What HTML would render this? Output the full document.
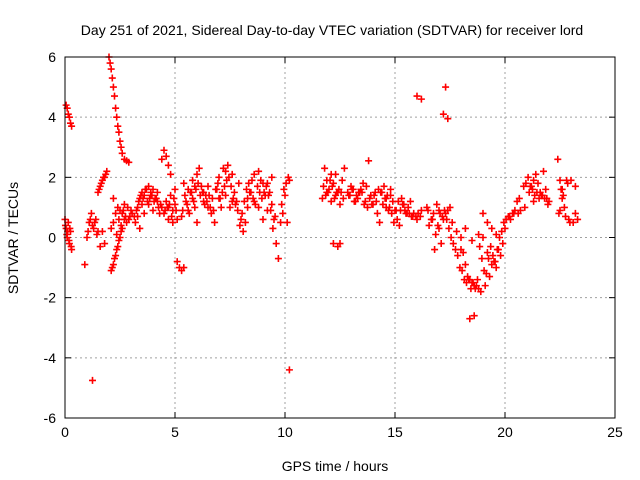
<!DOCTYPE html>
<html><head><meta charset="utf-8"><style>
body{margin:0;background:#fff;}
svg{display:block;font-family:"Liberation Sans",sans-serif;}
</style></head><body>
<svg id="chart" width="640" height="480">
<rect width="640" height="480" fill="#fff"/>
<text x="332" y="35" font-size="14" text-anchor="middle">Day 251 of 2021, Sidereal Day-to-day VTEC variation (SDTVAR) for receiver lord</text>
<text x="335" y="471" font-size="14" text-anchor="middle">GPS time / hours</text>
<text transform="translate(18,238) rotate(-90)" font-size="14" text-anchor="middle">SDTVAR / TECUs</text>
<g id="grid"></g><g id="ticks"></g><g id="marks"></g>
<rect x="65" y="57" width="550" height="361" fill="none" stroke="#000" stroke-width="1"/>
</svg>
<script>
const xTicks=[0,5,10,15,20,25];
const yTicks=[-6,-4,-2,0,2,4,6];
const times=[0,0.05,0.1,0.15,0.2,0.25,0.3,0.05,0.1,0.15,0.2,0.25,0.3,
0.9,1.0,1.1,1.2,1.3,1.4,1.5,1.5,1.6,1.7,1.8,1.9,1.6,1.7,1.8,
2.0,2.05,2.1,2.15,2.2,2.25,2.3,2.35,2.4,2.45,2.5,2.55,2.6,2.7,2.8,2.9,
2.1,2.15,2.2,2.25,2.3,2.35,2.4,2.45,2.5,2.55,2.6,2.7,2.8,2.2,2.3,2.4,2.5,2.6,2.7,2.9,3.0,2.1,2.2,
1.25,
3.2,3.3,3.4,3.5,3.6,3.7,3.8,3.9,4.0,4.2,3.4,3.6,3.8,4.0,4.2,4.4,4.5,4.6,4.8,5.0,4.4,4.5,4.6,4.7,4.8,5.0,4.7,4.9,5.1,3.3,3.5,3.9,4.1,4.3,4.7,4.9,
5.1,5.2,5.3,5.4,
5.3,5.5,5.6,5.8,5.9,6.0,5.4,5.6,5.8,6.0,6.2,6.4,6.6,6.8,6.1,6.3,6.5,6.7,6.9,7.0,7.2,7.4,7.6,7.3,7.5,7.7,7.8,8.0,8.1,8.2,8.3,8.4,8.5,8.6,8.8,9.0,8.6,8.8,9.1,9.2,9.3,9.4,9.5,9.6,9.7,9.8,9.9,10.0,10.2,10.1,9.4,9.2,7.1,7.9,8.3,5.7,5.9,6.3,6.5,7.0,7.3,7.6,8.9,9.0,
10.2,
11.7,11.8,11.9,12.0,12.1,12.2,12.3,12.4,12.5,12.6,12.7,12.2,12.4,12.5,11.9,12.1,12.3,
12.9,13.1,13.3,13.5,13.7,13.9,13.8,14.0,14.2,14.4,14.5,14.6,14.7,14.8,14.3,14.1,14.9,15.0,15.1,15.2,15.3,15.4,15.6,15.8,16.0,16.2,15.5,15.7,13.0,13.2,13.4,13.6,14.6,14.8,
16.0,16.2,17.2,17.4,17.3,
16.5,16.7,16.9,17.0,17.1,17.2,17.4,17.6,17.8,16.8,17.0,17.3,17.5,
18.0,18.1,18.2,18.3,18.5,18.7,18.9,19.1,18.4,18.6,18.2,18.5,18.8,19.0,19.2,19.4,19.6,19.8,19.9,19.0,19.2,19.4,19.6,20.0,20.2,20.4,20.6,20.7,18.0,19.3,18.4,18.6,18.8,19.5,19.7,
20.9,21.1,21.3,21.4,21.5,21.6,21.8,22.0,21.3,21.7,21.2,21.9,
22.4,22.5,22.6,22.7,22.9,23.1,23.3,22.8,23.0,23.2,22.5,22.6,23.2,
0.02,0.08,0.12,0.18,0.22,0.28,1.05,1.15,1.25,1.35,1.45,1.55,1.65,1.75,1.85,2.35,2.45,2.55,2.65,2.75,2.85,2.95,3.05,3.15,3.25,3.35,3.45,3.55,3.65,3.75,3.85,3.95,4.05,4.15,4.25,4.35,4.55,4.65,4.75,4.85,4.95,5.05,5.35,5.45,5.55,5.65,5.75,5.85,5.95,6.05,6.15,6.25,6.35,6.45,6.55,6.65,6.75,6.85,6.95,7.05,7.15,7.25,7.35,7.45,7.55,7.65,7.75,7.85,7.95,8.05,8.15,8.25,8.35,8.45,8.55,8.65,8.75,8.85,8.95,9.05,9.15,9.25,9.35,9.45,9.55,9.85,9.95,10.05,10.15,
11.75,11.85,11.95,12.05,12.15,12.25,12.35,12.45,12.55,12.65,12.85,12.95,13.05,13.15,13.25,13.35,13.45,13.55,13.65,13.75,13.85,13.95,14.05,14.15,14.25,14.35,14.45,14.55,14.65,14.75,14.85,14.95,15.05,15.15,15.25,15.35,15.45,15.55,15.65,15.75,15.85,15.95,16.05,16.15,16.45,16.55,16.65,16.75,16.85,16.95,17.05,17.15,17.25,17.35,17.45,17.55,17.65,17.75,17.85,17.95,18.05,18.15,18.25,18.35,18.45,18.55,18.65,18.75,18.85,18.95,19.05,19.15,19.25,19.35,19.45,19.55,19.65,19.75,19.85,19.95,20.05,20.15,20.25,20.35,20.45,20.55,20.65,20.85,20.95,21.05,21.15,21.25,21.35,21.45,21.55,21.65,21.75,21.85,21.95,22.45,22.55,22.65,22.75,22.85,22.95,23.05,23.15,23.25];
const values=[0.6,0.3,0,0.5,-0.2,0.2,-0.4,4.4,4.3,4.1,4.0,3.8,3.7,
-0.9,0,0.5,0.8,0.3,0.6,0.2,1.5,1.7,1.9,2.0,2.2,-0.3,0.2,-0.2,
6.0,5.8,5.6,5.3,5.0,4.7,4.3,4.0,3.7,3.5,3.2,3.0,2.8,2.6,2.55,2.5,
-1.1,-1.0,-0.9,-0.7,-0.6,-0.4,-0.3,-0.1,0,0.2,0.3,0.6,0.5,0.5,0.8,1.0,0.9,0.8,1.1,0.6,0.9,0.3,1.3,
-4.75,
0.5,1.0,1.3,1.5,1.4,1.6,1.7,1.5,1.6,1.5,0.3,0.8,1.1,0.9,1.2,1.0,0.8,1.2,1.4,1.1,2.6,2.9,2.7,2.4,2.1,1.6,0.6,0.5,0.6,0.7,1.1,1.4,1.3,0.8,1.0,0.9,
-0.8,-1.0,-1.1,-1.0,
0.7,1.2,0.9,1.3,1.0,0.5,1.8,1.6,1.9,2.1,1.7,1.4,1.0,0.5,2.3,1.2,1.7,1.3,1.6,2.0,2.3,2.4,2.1,1.4,1.0,1.5,1.2,0.6,0.2,0.5,1.0,1.5,1.9,2.1,2.2,1.8,1.2,1.0,1.4,1.8,1.5,1.1,0.6,-0.2,-0.7,0.5,0.8,1.4,1.9,0.5,2.0,0.9,1.0,1.8,1.3,1.5,1.7,1.5,1.0,1.3,2.2,1.2,1.9,0.6,
-4.4,
1.3,2.3,1.9,1.6,1.2,1.8,2.1,1.5,1.1,1.9,2.3,-0.2,-0.3,-0.2,1.5,2.1,1.4,
1.4,1.6,1.3,1.5,1.7,1.4,2.55,1.1,0.8,1.5,1.7,1.3,0.9,1.6,0.5,1.5,1.2,0.9,0.6,0.4,1.3,1.1,1.0,0.7,0.6,0.9,0.8,1.2,1.7,1.2,1.5,1.1,1.0,1.4,
4.7,4.6,4.1,3.95,5.0,
0.9,0.6,1.1,0.3,-0.2,0.6,0.9,0.5,0.2,-0.4,0.9,0.8,1.0,
0,-0.5,-0.9,-1.3,-1.5,-1.6,-1.8,-1.6,-2.7,-2.6,0.3,-0.1,0.1,0,-0.5,-0.9,-1.0,-0.6,-0.2,0.8,0.5,0.3,0.1,0.3,0.7,0.8,0.8,0.9,-0.4,-1.3,-1.4,-1.6,-1.7,-0.8,-0.4,
1.0,1.5,1.9,2.1,1.8,1.5,1.3,1.2,1.2,1.4,1.7,1.3,
2.6,1.9,1.3,1.0,0.6,0.5,0.6,1.9,1.9,1.7,0.9,1.6,0.8,
0.4,0.1,0.2,-0.1,0.3,-0.3,0.2,0.6,0.4,0.5,0.1,1.6,1.8,2.0,2.1,0.1,0.6,0.4,0.9,0.7,1.0,0.7,0.8,0.7,0.9,1.2,1.4,1.3,1.6,1.2,1.3,1.4,1.2,1.3,1.0,1.1,0.9,1.0,1.1,0.7,1.3,0.9,0.9,1.4,1.1,0.8,1.5,1.2,1.6,1.8,1.4,1.5,1.1,1.2,1.4,0.8,0.9,1.6,1.8,1.3,1.5,1.7,1.9,2.0,1.7,1.3,1.1,0.9,0.4,0.8,1.2,1.6,1.8,1.5,1.3,1.1,1.7,1.5,1.3,1.5,1.7,1.4,0.9,0.3,0.7,1.1,1.6,
1.8,2.0,1.7,1.4,1.5,1.9,1.7,1.3,1.5,1.6,1.5,1.3,1.5,1.4,1.6,1.2,1.4,1.5,1.6,1.8,1.2,1.0,1.3,1.1,1.4,1.2,1.6,1.5,1.1,1.3,1.4,1.0,0.8,0.5,0.9,1.2,0.9,1.1,0.9,0.8,0.8,0.7,0.8,0.7,0.8,0.7,1.0,0.4,0.6,0.8,0.1,0.4,0.8,0.7,0.9,0.6,0.3,0,-0.2,-0.4,-0.6,-1.0,-1.1,-1.4,-1.5,-1.4,-1.7,-1.5,-1.7,-1.4,-0.3,-0.7,-1.1,-1.2,-0.7,-0.3,-0.6,-0.8,-0.4,0,0.2,0.5,0.6,0.7,0.6,0.8,0.9,1.2,1.3,1.7,1.8,2.0,1.7,1.6,1.4,1.5,1.3,1.4,2.2,1.6,1.1,0.8,1.6,1.4,0.7,1.8,0.5];
const NS="http://www.w3.org/2000/svg";
const X0=65,X1=615,Y0=418,Y1=57;
function xs(t){return X0+(t-0)/(25-0)*(X1-X0);}
function ys(v){return Y0-(v+6)/12*(Y0-Y1);}
const grid=document.getElementById('grid'),tk=document.getElementById('ticks'),mk=document.getElementById('marks');
function mkEl(tag,attrs,parent){const e=document.createElementNS(NS,tag);for(const k in attrs)e.setAttribute(k,attrs[k]);parent.appendChild(e);return e;}
xTicks.forEach(t=>{const x=xs(t);
 if(t>0&&t<25){const g=mkEl('line',{x1:x,x2:x,y1:Y1,y2:Y0,stroke:'#a0a0a0','stroke-dasharray':'2,3'},grid);
 
 }
 mkEl('line',{x1:x,x2:x,y1:Y0,y2:Y0-6,stroke:'#000'},tk);mkEl('line',{x1:x,x2:x,y1:Y1,y2:Y1+6,stroke:'#000'},tk);
 const l=mkEl('text',{x:x,y:Y0+19,'font-size':14,'text-anchor':'middle'},tk);l.textContent=t;
 
 });
yTicks.forEach(v=>{const y=ys(v);
 if(v>-6&&v<6){const g=mkEl('line',{x1:X0,x2:X1,y1:y,y2:y,stroke:'#a0a0a0','stroke-dasharray':'2,3'},grid);
 
 }
 mkEl('line',{x1:X0,x2:X0+6,y1:y,y2:y,stroke:'#000'},tk);mkEl('line',{x1:X1,x2:X1-6,y1:y,y2:y,stroke:'#000'},tk);
 const l=mkEl('text',{x:X0-9,y:y+5,'font-size':14,'text-anchor':'end'},tk);l.textContent=v;
 
 });
for(let i=0;i<Math.min(times.length,values.length);i++){const x=xs(times[i]),y=ys(values[i]);
 const p=mkEl('path',{d:`M${x-3.5},${y}h7M${x},${y-3.5}v7`,stroke:'#f00','stroke-width':1.6,fill:'none'},mk);
 
 }
</script>
</body></html>
